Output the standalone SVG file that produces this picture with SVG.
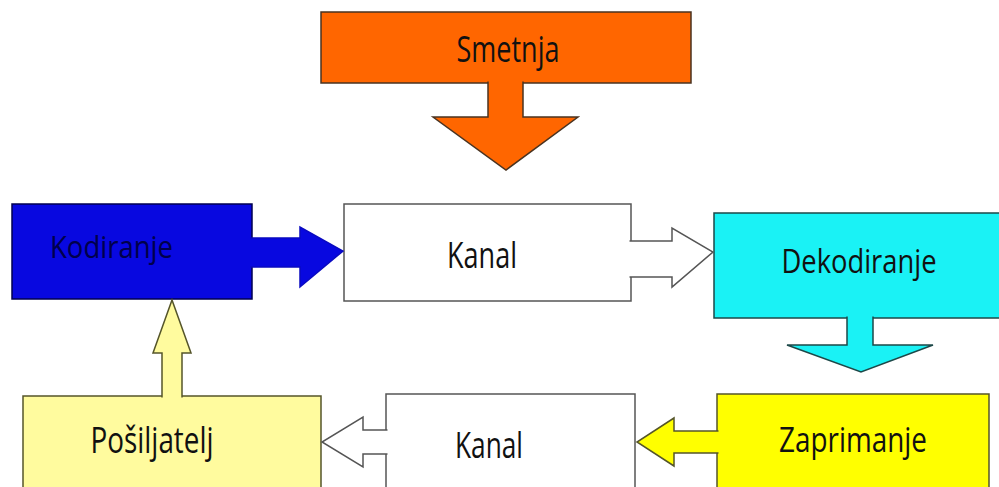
<svg xmlns="http://www.w3.org/2000/svg" width="999" height="487" viewBox="0 0 999 487">
  <style>
    .lbl { font-family: "Liberation Sans Narrow", "Open Sans", "Liberation Sans", sans-serif; text-anchor: middle; fill: #111; }
    .sw { stroke-width: 1.5; stroke-linejoin: miter; }
  </style>
  <rect x="0" y="0" width="999" height="487" fill="#ffffff"/>

  <g id="smetnja">
    <rect class="sw" x="321" y="12" width="370" height="71" fill="#ff6600" stroke="#4a3320"/>
    <text class="lbl" x="508" y="62" font-size="36" textLength="103" lengthAdjust="spacingAndGlyphs">Smetnja</text>
  </g>

  <g id="kodiranje">
    <rect class="sw" x="12" y="204" width="240" height="95" fill="#0808e0" stroke="#000050"/>
    <text class="lbl" x="111.5" y="258" font-size="31" fill="#000050" style="fill:#00004a" textLength="123" lengthAdjust="spacingAndGlyphs">Kodiranje</text>
  </g>

  <g id="kanal-gore">
    <rect class="sw" x="344" y="204" width="287" height="97" fill="#ffffff" stroke="#555555"/>
    <text class="lbl" x="482" y="268" font-size="36" textLength="70" lengthAdjust="spacingAndGlyphs">Kanal</text>
  </g>

  <g id="dekodiranje">
    <rect class="sw" x="714" y="213" width="300" height="105" fill="#1af2f5" stroke="#1d4848"/>
    <text class="lbl" x="859" y="273" font-size="32" textLength="155" lengthAdjust="spacingAndGlyphs">Dekodiranje</text>
  </g>

  <g id="zaprimanje">
    <rect class="sw" x="717" y="394" width="272" height="110" fill="#ffff00" stroke="#55552a"/>
    <text class="lbl" x="853" y="452" font-size="34" textLength="148" lengthAdjust="spacingAndGlyphs">Zaprimanje</text>
  </g>

  <g id="kanal-dolje">
    <rect class="sw" x="386" y="394" width="249" height="110" fill="#ffffff" stroke="#555555"/>
    <text class="lbl" x="489" y="458" font-size="36" textLength="68" lengthAdjust="spacingAndGlyphs">Kanal</text>
  </g>

  <g id="posiljatelj">
    <rect class="sw" x="23" y="396" width="298" height="110" fill="#fffb9e" stroke="#55552a"/>
    <text class="lbl" x="152" y="453" font-size="36" textLength="123" lengthAdjust="spacingAndGlyphs">Pošiljatelj</text>
  </g>

  <g id="connectors" class="sw">
    <path d="M488,81.5 L488,117 L433,117 L506,170 L578,117 L523,117 L523,81.5" fill="#ff6600" stroke="#4a3320"/>
    <path d="M250.5,238 L300,238 L300,227 L343,251 L300,287 L300,267 L250.5,267" fill="#0808e0" stroke="#0a0ac0"/>
    <path d="M629.5,241 L672,241 L672,228 L713,252 L672,287 L672,277 L629.5,277" fill="#ffffff" stroke="#555555"/>
    <path d="M847,316.5 L847,345 L787,345 L861,372 L933,345 L873,345 L873,316.5" fill="#1af2f5" stroke="#1d4848"/>
    <path d="M718.5,431 L674,431 L674,418 L637,442 L674,466 L674,453 L718.5,453" fill="#ffff00" stroke="#55552a"/>
    <path d="M387.5,430 L363,430 L363,417 L322,442 L363,467 L363,454 L387.5,454" fill="#ffffff" stroke="#555555"/>
    <path d="M162,397.5 L162,353 L153,353 L172,300 L191,353 L182,353 L182,397.5" fill="#fffb9e" stroke="#55552a"/>
  </g>
</svg>
